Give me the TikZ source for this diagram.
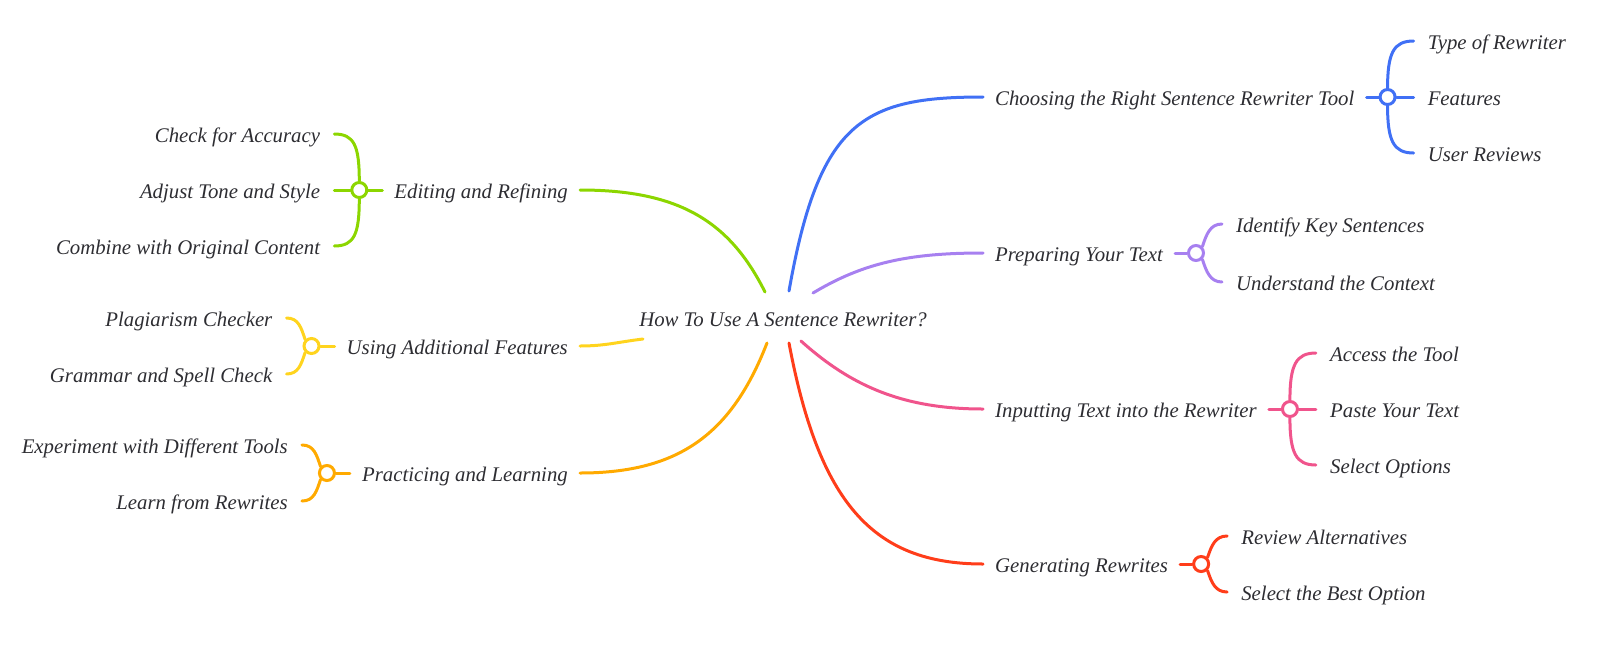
\documentclass[tikz,border=0pt]{standalone}
\usepackage{fontspec}
\setmainfont{Liberation Serif}
\usetikzlibrary{positioning, calc}
\definecolor{cBlue}{RGB}{64,112,245}
\definecolor{cPurple}{RGB}{167,128,240}
\definecolor{cPink}{RGB}{240,84,140}
\definecolor{cRed}{RGB}{255,61,26}
\definecolor{cGreen}{RGB}{140,214,0}
\definecolor{cYellow}{RGB}{255,212,30}
\definecolor{cOrange}{RGB}{255,170,0}
\definecolor{cText}{RGB}{45,45,50}
\tikzset{
	topic/.style ={font=\fontsize{20.8}{25}\selectfont\itshape, text=cText, inner xsep=12pt, inner ysep=3pt, text height=18pt, text depth=2pt},
	leaf/.style  ={topic, inner xsep=14pt},
	hub/.style   ={circle, draw=#1, line width=3pt, fill=white, minimum size=15pt, inner sep=0pt},
	branch/.style={draw=#1, line width=3pt, line cap=round},
}
\begin{document}
\begin{tikzpicture}[x=1pt, y=-1pt]
	\useasboundingbox (0,0) rectangle (1600,654);
	\node[topic] (root) at (783,318) {How To Use A Sentence Rewriter?};
	\coordinate (rB) at (789,291); \coordinate (rV) at (813,293); \coordinate (rP) at (801,341); \coordinate (rR) at (789,343);
	\coordinate (rG) at (765,292); \coordinate (rY) at (643,339); \coordinate (rO) at (767,343);
	% right side
	\node[topic, anchor=west] (c1) at (983,97) {Choosing the Right Sentence Rewriter Tool};
	\node[hub=cBlue, right=12pt of c1] (c1h) {};
	\node[leaf, anchor=west] (c1a) at ($(c1h)+(26,-56)$) {Type of Rewriter};
	\node[leaf, anchor=west] (c1b) at ($(c1h)+(26,0)$) {Features};
	\node[leaf, anchor=west] (c1c) at ($(c1h)+(26,56)$) {User Reviews};
	\node[topic, anchor=west] (c2) at (983,253) {Preparing Your Text};
	\node[hub=cPurple, right=12pt of c2] (c2h) {};
	\node[leaf, anchor=west] (c2a) at ($(c2h)+(26,-29)$) {Identify Key Sentences};
	\node[leaf, anchor=west] (c2b) at ($(c2h)+(26,29)$) {Understand the Context};
	\node[topic, anchor=west] (c3) at (983,409) {Inputting Text into the Rewriter};
	\node[hub=cPink, right=12pt of c3] (c3h) {};
	\node[leaf, anchor=west] (c3a) at ($(c3h)+(26,-56)$) {Access the Tool};
	\node[leaf, anchor=west] (c3b) at ($(c3h)+(26,0)$) {Paste Your Text};
	\node[leaf, anchor=west] (c3c) at ($(c3h)+(26,56)$) {Select Options};
	\node[topic, anchor=west] (c4) at (983,564) {Generating Rewrites};
	\node[hub=cRed, right=12pt of c4] (c4h) {};
	\node[leaf, anchor=west] (c4a) at ($(c4h)+(26,-28)$) {Review Alternatives};
	\node[leaf, anchor=west] (c4b) at ($(c4h)+(26,28)$) {Select the Best Option};
	% left side
	\node[topic, anchor=east] (e1) at (580,190) {Editing and Refining};
	\node[hub=cGreen, left=14pt of e1] (e1h) {};
	\node[leaf, anchor=east] (e1a) at ($(e1h)+(-25,-56)$) {Check for Accuracy};
	\node[leaf, anchor=east] (e1b) at ($(e1h)+(-25,0)$) {Adjust Tone and Style};
	\node[leaf, anchor=east] (e1c) at ($(e1h)+(-25,56)$) {Combine with Original Content};
	\node[topic, anchor=east] (u1) at (580,346) {Using Additional Features};
	\node[hub=cYellow, left=14pt of u1] (u1h) {};
	\node[leaf, anchor=east] (u1a) at ($(u1h)+(-25,-28)$) {Plagiarism Checker};
	\node[leaf, anchor=east] (u1b) at ($(u1h)+(-25,28)$) {Grammar and Spell Check};
	\node[topic, anchor=east] (p1) at (580,473) {Practicing and Learning};
	\node[hub=cOrange, left=14pt of p1] (p1h) {};
	\node[leaf, anchor=east] (p1a) at ($(p1h)+(-25,-28)$) {Experiment with Different Tools};
	\node[leaf, anchor=east] (p1b) at ($(p1h)+(-25,28)$) {Learn from Rewrites};
	% main branches
	\draw[branch=cBlue] (rB) .. controls +(30,-170) and +(-120,0) .. (c1.west);
	\draw[branch=cPurple] (rV) .. controls +(50,-30) and +(-75,0) .. (c2.west);
	\draw[branch=cPink] (rP) .. controls +(50,45) and +(-80,0) .. (c3.west);
	\draw[branch=cRed] (rR) .. controls +(30,160) and +(-110,0) .. (c4.west);
	\draw[branch=cGreen] (rG) .. controls +(-35,-70) and +(100,0) .. (e1.east);
	\draw[branch=cYellow] (rY) .. controls +(-25,3) and +(25,0) .. (u1.east);
	\draw[branch=cOrange] (rO) .. controls +(-35,90) and +(100,0) .. (p1.east);
	% sub branches
	\draw[branch=cBlue] (c1.east) -- (c1h.west); \draw[branch=cBlue] (c1h.east) -- (c1b.west);
	\draw[branch=cBlue] (c1h.north) .. controls +(0,-35) and +(-20,0) .. (c1a.west);
	\draw[branch=cBlue] (c1h.south) .. controls +(0,35) and +(-20,0) .. (c1c.west);
	\draw[branch=cPurple] (c2.east) -- (c2h.west);
	\draw[branch=cPurple] (c2h.north east) .. controls +(4,-12) and +(-12,0) .. (c2a.west);
	\draw[branch=cPurple] (c2h.south east) .. controls +(4,12) and +(-12,0) .. (c2b.west);
	\draw[branch=cPink] (c3.east) -- (c3h.west); \draw[branch=cPink] (c3h.east) -- (c3b.west);
	\draw[branch=cPink] (c3h.north) .. controls +(0,-35) and +(-20,0) .. (c3a.west);
	\draw[branch=cPink] (c3h.south) .. controls +(0,35) and +(-20,0) .. (c3c.west);
	\draw[branch=cRed] (c4.east) -- (c4h.west);
	\draw[branch=cRed] (c4h.north east) .. controls +(4,-12) and +(-12,0) .. (c4a.west);
	\draw[branch=cRed] (c4h.south east) .. controls +(4,12) and +(-12,0) .. (c4b.west);
	\draw[branch=cGreen] (e1.west) -- (e1h.east); \draw[branch=cGreen] (e1h.west) -- (e1b.east);
	\draw[branch=cGreen] (e1h.north) .. controls +(0,-35) and +(20,0) .. (e1a.east);
	\draw[branch=cGreen] (e1h.south) .. controls +(0,35) and +(20,0) .. (e1c.east);
	\draw[branch=cYellow] (u1.west) -- (u1h.east);
	\draw[branch=cYellow] (u1h.north west) .. controls +(-4,-12) and +(12,0) .. (u1a.east);
	\draw[branch=cYellow] (u1h.south west) .. controls +(-4,12) and +(12,0) .. (u1b.east);
	\draw[branch=cOrange] (p1.west) -- (p1h.east);
	\draw[branch=cOrange] (p1h.north west) .. controls +(-4,-12) and +(12,0) .. (p1a.east);
	\draw[branch=cOrange] (p1h.south west) .. controls +(-4,12) and +(12,0) .. (p1b.east);
\end{tikzpicture}
\end{document}
